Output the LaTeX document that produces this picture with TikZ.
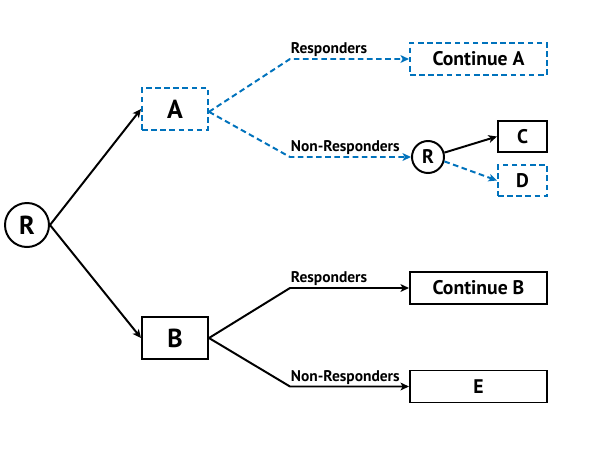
\documentclass[tikz,border=0pt]{standalone}
\usepackage{fontspec}
\setmainfont{PT Sans}
\usetikzlibrary{arrows.meta}
\definecolor{flowblue}{RGB}{0,114,188}
\begin{document}
\begin{tikzpicture}[x=0.025cm,y=-0.025cm,
  line width=1.4pt,
  tip/.style={-{Stealth[length=6pt,width=5.5pt,inset=1.5pt]}},
  big/.style={font=\bfseries\fontsize{18.5}{22}\selectfont},
  mid/.style={font=\bfseries\fontsize{14}{17}\selectfont},
  solidbox/.style={draw=black,rectangle,inner sep=0pt},
  dashbox/.style={draw=flowblue,rectangle,inner sep=0pt,dash pattern=on 4pt off 2.5pt},
  randc/.style={draw=black,circle,inner sep=0pt},
  dashlink/.style={draw=flowblue,dash pattern=on 4pt off 2.5pt,tip},
  lbl/.style={font=\bfseries\fontsize{11}{13}\selectfont,inner xsep=0pt,inner ysep=1pt,anchor=south west}
]
\useasboundingbox (0,0) rectangle (600,450);

% randomisation points
\node[randc,big,minimum size=1.1cm] (R) at (27,225) {R};
\node[randc,mid,minimum size=0.8cm] (R2) at (428,157) {R};

% first-stage treatments
\node[dashbox,big,minimum width=1.65cm,minimum height=1.05cm] (A) at (175,109) {A};
\node[solidbox,big,minimum width=1.65cm,minimum height=1.05cm] (B) at (175,338) {B};

% second-stage treatments
\node[dashbox,mid,minimum width=3.425cm,minimum height=0.8cm] (CA) at (478.5,59) {Continue A};
\node[solidbox,mid,minimum width=1.225cm,minimum height=0.775cm] (C) at (522.5,136.5) {C};
\node[dashbox,mid,minimum width=1.225cm,minimum height=0.775cm] (D) at (522.5,180.5) {D};
\node[solidbox,mid,minimum width=3.425cm,minimum height=0.8cm] (CB) at (478.5,288) {Continue B};
\node[solidbox,mid,minimum width=3.425cm,minimum height=0.8cm] (E) at (478.5,386.5) {E};

% bend points of the response branches
\coordinate (ar) at (290,59);
\coordinate (an) at (290,157);
\coordinate (br) at (290,288);
\coordinate (bn) at (290,386.5);

% initial randomisation
\draw[tip] (R.east) -- (A.west);
\draw[tip] (R.east) -- (B.west);

% branches after A
\draw[dashlink] ([yshift=-2pt]A.east) -- (ar) -- (CA.west);
\draw[dashlink] ([yshift=-2pt]A.east) -- (an) -- (R2.west);
\node[lbl] (lar) at (ar) {Responders};
\node[lbl] (lan) at (an) {Non-Responders};

% re-randomisation of non-responders
\draw[tip] (R2.15) -- (C.west);
\draw[dashlink] (R2.-15) -- (D.west);

% branches after B
\draw[tip] (B.east) -- (br) -- (CB.west);
\draw[tip] (B.east) -- (bn) -- (E.west);
\node[lbl] (lbr) at (br) {Responders};
\node[lbl] (lbn) at (bn) {Non-Responders};
\end{tikzpicture}
\end{document}
